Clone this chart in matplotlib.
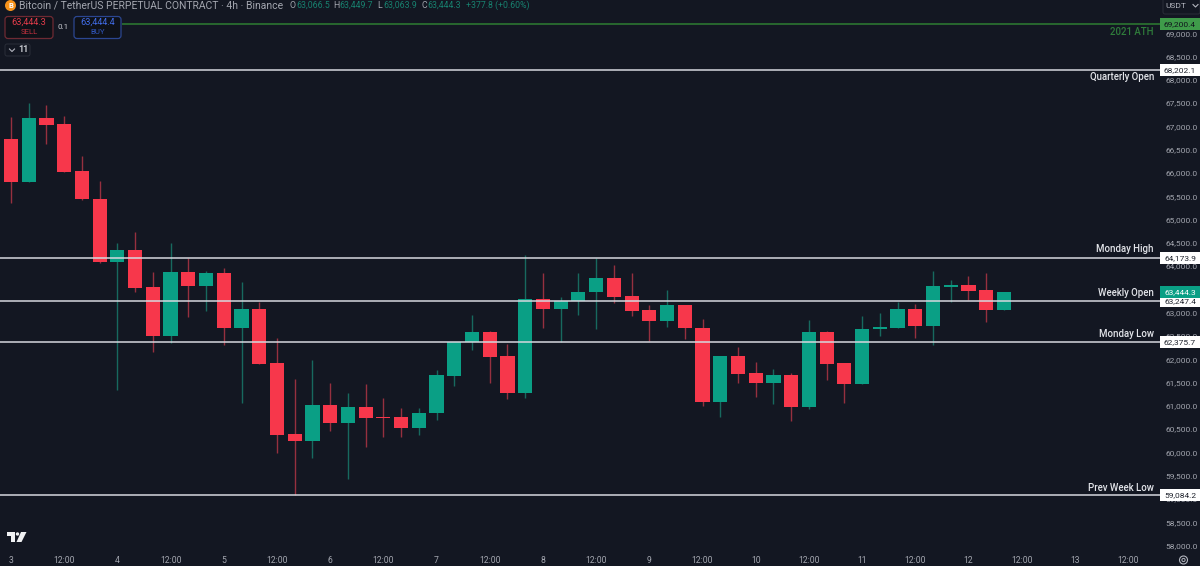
import matplotlib
matplotlib.use('Agg')
import matplotlib.pyplot as plt
from matplotlib.patches import Rectangle, FancyBboxPatch, Circle, Polygon
from matplotlib.ticker import MultipleLocator, FuncFormatter

plt.rcParams['font.family'] = ['Roboto', 'DejaVu Sans']

opens = [66723, 65812, 67187, 67045, 66042, 65441, 64094, 64345, 63551, 62505,
         63873, 63579, 63852, 62677, 63072, 61925, 60394, 60250, 61023, 60636,
         60967, 60765, 60752, 60529, 60838, 61646, 62370, 62591, 62069, 61281,
         63287, 63078, 63244, 63437, 63738, 63358, 63050, 62821, 63164, 62677,
         61081, 62069, 61697, 61489, 61654, 60980, 62591, 61912, 61467, 62642,
         62677, 63078, 62713, 63551, 63594, 63480, 63066.5]
highs = [67202, 67503, 67460, 67224, 66364, 65828, 64502, 64739, 63879, 64496,
         64174, 63901, 63959, 63665, 63235, 62455, 61575, 61983, 61495, 61274,
         61467, 61167, 60952, 60958, 61768, 62370, 62943, 62600, 62327, 64245,
         63858, 63330, 63858, 64174, 64023, 63845, 63158, 63486, 63170, 62870,
         62069, 62256, 61946, 61783, 61710, 62842, 62600, 61920, 62928, 62999,
         63235, 63186, 63901, 63701, 63787, 63845, 63449.7]
lows = [65355, 65812, 66622, 66021, 65420, 64066, 61339, 63443, 62161, 62348,
        62906, 63042, 62305, 61066, 61890, 59985, 59084, 59885, 60465, 59434,
        60121, 60336, 60336, 60372, 60694, 61424, 62198, 61495, 61152, 61173,
        62670, 62370, 62943, 62655, 63214, 62928, 62385, 62698, 62440, 60995,
        60752, 61495, 61182, 61038, 60666, 60924, 61553, 61066, 61467, 62505,
        62677, 62449, 62305, 63235, 63265, 62793, 63063.9]
closes = [65812, 67187, 67030, 66021, 65441, 64094, 64345, 63536, 62505, 63873,
          63579, 63852, 62677, 63072, 61904, 60379, 60250, 61023, 60636, 60967,
          60744, 60737, 60529, 60851, 61667, 62370, 62591, 62047, 61281, 63287,
          63078, 63244, 63450, 63738, 63336, 63035, 62821, 63164, 62670, 61081,
          62069, 61682, 61489, 61654, 60980, 62591, 61897, 61467, 62649, 62692,
          63078, 62713, 63566, 63594, 63465, 63050, 63444.3]

level_prices = [68202.1, 64173.9, 63247.4, 62375.7, 59084.2]
level_names = ['Quarterly Open', 'Monday High', 'Weekly Open', 'Monday Low', 'Prev Week Low']
level_offsets = [-7, 9, 8, 8, 7]
ath_price = 69200.4
last_price = 63444.3

x_ticks = [0, 3, 6, 9, 12, 15, 18, 21, 24, 27, 30, 33, 36, 39, 42, 45, 48, 51, 54, 57, 60, 63]
x_labels = ['3', '12:00', '4', '12:00', '5', '12:00', '6', '12:00', '7', '12:00', '8', '12:00',
            '9', '12:00', '10', '12:00', '11', '12:00', '12', '12:00', '13', '12:00']

BG = '#131722'
RED = '#f7374b'
GREEN = '#0a9f85'
RED_WICK = '#96303f'
GREEN_WICK = '#17695f'
GREY = '#a3a6af'
LINE = '#d6d8de'

fig = plt.figure(figsize=(12, 5.66), dpi=100, facecolor=BG)
ax = fig.add_axes([0, 18 / 566, 1160 / 1200, 548 / 566], facecolor=BG)
ax.set_xlim(-0.62, 64.8)
ax.set_ylim(57945, 69715)

for i in range(len(opens)):
    up = closes[i] >= opens[i]
    ax.vlines(i, lows[i], highs[i], color=GREEN_WICK if up else RED_WICK, lw=1.0, zorder=2)
    ax.bar(i, abs(closes[i] - opens[i]), bottom=min(opens[i], closes[i]), width=0.8,
           color=GREEN if up else RED, lw=0, zorder=3)

ax.axhline(ath_price, color='#2e7d32', lw=1.1, zorder=4)
for p in level_prices:
    ax.axhline(p, color=LINE, lw=1.1, zorder=4)

for s in ax.spines.values():
    s.set_visible(False)
ax.yaxis.tick_right()
ax.yaxis.set_major_locator(MultipleLocator(500))
ax.yaxis.set_major_formatter(FuncFormatter(lambda v, pos: f'{v:,.1f}'))
ax.set_xticks(x_ticks)
ax.set_xticklabels(x_labels)
ax.tick_params(axis='y', length=0, pad=3.6, labelsize=6.0, labelcolor=GREY)
ax.tick_params(axis='x', length=0, pad=5.8, labelsize=6.2, labelcolor=GREY)

trans = ax.get_yaxis_transform()
box_w = 40 / 1160
box_h = 260


def price_box(price, text, face, color):
    ax.add_patch(Rectangle((1, price - box_h / 2), box_w, box_h, transform=trans,
                           facecolor=face, lw=0, clip_on=False, zorder=6))
    ax.text(1 + 20 / 1160, price, text, transform=trans, ha='center', va='center',
            fontsize=6.0, color=color, clip_on=False, zorder=7)


def level_text(price, text, off, color):
    ax.annotate(text, (1154 / 1160, price), xycoords=trans, xytext=(0, off * 0.72),
                textcoords='offset points', ha='right', va='center', fontsize=6.9,
                fontweight='medium', color=color, zorder=7)


price_box(ath_price, '69,200.4', '#3f9b4a', '#10141c')
level_text(ath_price, '2021 ATH', -8, '#2f7d3b')
for p, name, off in zip(level_prices, level_names, level_offsets):
    price_box(p, f'{p:,.1f}', '#ffffff', '#20242e')
    level_text(p, name, off, '#e3e5ea')
price_box(last_price, f'{last_price:,.1f}', GREEN, '#ffffff')

# header and widgets, drawn in pixel coordinates
ui = fig.add_axes([0, 0, 1, 1], facecolor='none', zorder=5)
ui.set_xlim(0, 1200)
ui.set_ylim(566, 0)
ui.axis('off')

ui.add_patch(Circle((10.5, 5.5), 5.5, facecolor='#f7931a', lw=0))
ui.text(10.5, 5.5, 'B', color='white', fontsize=5.5, fontweight='bold', ha='center', va='center')
ui.text(19, 5.5, 'Bitcoin / TetherUS PERPETUAL CONTRACT · 4h · Binance', color=GREY,
        fontsize=7.5, va='center')
for x, letter, value in [(290, 'O', '63,066.5'), (333, 'H', '63,449.7'),
                         (377, 'L', '63,063.9'), (421, 'C', '63,444.3')]:
    ui.text(x, 5.5, letter, color=GREY, fontsize=6.3, va='center')
    ui.text(x + 6.5, 5.5, value, color='#17806e', fontsize=6.3, va='center')
ui.text(466, 5.5, '+377.8 (+0.60%)', color='#17806e', fontsize=6.3, va='center')

# the ATH line starts after the order buttons
ui.add_patch(Rectangle((0, 17), 122, 21, facecolor=BG, lw=0))
ui.add_patch(FancyBboxPatch((5, 16.5), 48, 22, boxstyle='round,pad=0,rounding_size=3',
                            facecolor='#0e1118', edgecolor='#6e2a33', lw=0.9))
ui.text(29, 22.5, '63,444.3', color='#e23c4a', fontsize=6.6, ha='center', va='center')
ui.text(29, 32, 'SELL', color='#c2303d', fontsize=5.6, ha='center', va='center')
ui.text(63, 27, '0.1', color='#c8cad0', fontsize=5.8, ha='center', va='center')
ui.add_patch(FancyBboxPatch((74, 16.5), 47, 22, boxstyle='round,pad=0,rounding_size=3',
                            facecolor='#0e1118', edgecolor='#2b4690', lw=0.9))
ui.text(98, 22.5, '63,444.4', color='#416ce6', fontsize=6.6, ha='center', va='center')
ui.text(98, 32, 'BUY', color='#3056bd', fontsize=5.6, ha='center', va='center')

ui.add_patch(FancyBboxPatch((5, 44), 25, 12, boxstyle='round,pad=0,rounding_size=2',
                            facecolor='#131722', edgecolor='#2a2e39', lw=0.7))
ui.plot([9.5, 12, 14.5], [49, 51.5, 49], color='#b2b5be', lw=0.8)
ui.text(18, 50, '11', color='#c8cad0', fontsize=6.4, fontweight='bold', va='center')

ui.add_patch(FancyBboxPatch((1163, -3), 37, 17, boxstyle='round,pad=0,rounding_size=2',
                            facecolor='#131722', edgecolor='#2a2e39', lw=0.7))
ui.text(1165, 5.5, 'USDT', color='#b2b5be', fontsize=6, va='center')
ui.plot([1193, 1195.5, 1198], [4.5, 7, 4.5], color='#b2b5be', lw=0.8)

# TradingView mark
ui.add_patch(Polygon([(6.5, 532), (15, 532), (15, 542), (11, 542), (11, 536), (6.5, 536)], facecolor='#f0f1f3', lw=0))
ui.add_patch(Circle((17.5, 534), 1.7, facecolor='#f0f1f3', lw=0))
ui.add_patch(Polygon([(21, 532), (26.5, 532), (21.5, 542), (16.5, 542)], facecolor='#f0f1f3', lw=0))

# settings icon
ui.add_patch(Circle((1183.5, 560), 4, facecolor='none', edgecolor='#b2b5be', lw=0.8))
ui.add_patch(Circle((1183.5, 560), 1.6, facecolor='none', edgecolor='#b2b5be', lw=0.7))

fig.savefig('out.png', dpi=100, facecolor=BG)
